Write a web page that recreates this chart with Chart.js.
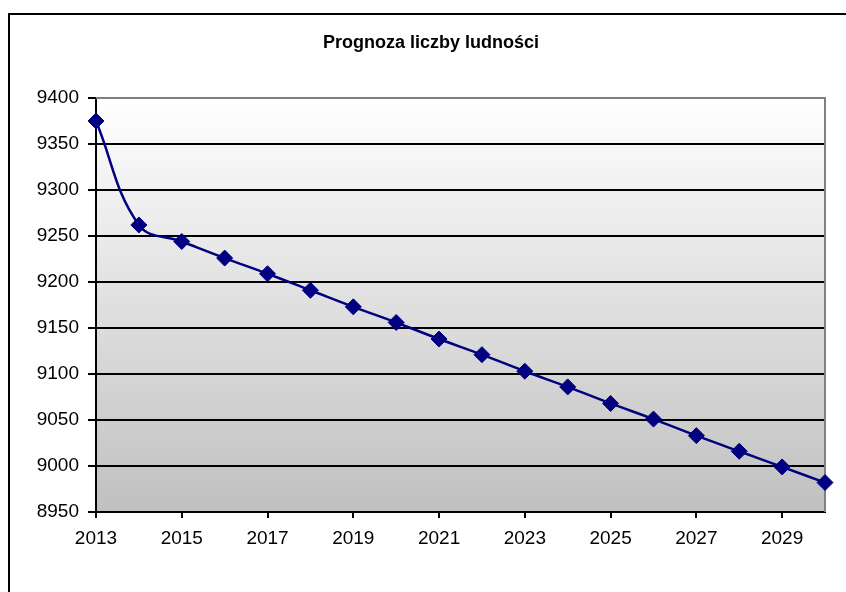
<!DOCTYPE html>
<html>
<head>
<meta charset="utf-8">
<script src="https://cdn.jsdelivr.net/npm/chart.js@4/dist/chart.umd.min.js"></script>
<style>
  html, body { margin: 0; padding: 0; background: #fff; }
  #wrap { width: 846px; height: 592px; }
</style>
</head>
<body>
<div id="wrap"><canvas id="c" width="846" height="592"></canvas></div>
<script>
const years = ['2013','2014','2015','2016','2017','2018','2019','2020','2021','2022','2023','2024','2025','2026','2027','2028','2029','2030'];
const population = [9375, 9262, 9244, 9226, 9209, 9191, 9173, 9156, 9138, 9121, 9103, 9086, 9068, 9051, 9033, 9016, 8999, 8982];
const yMin = 8950, yMax = 9400, yStep = 50;
const titleText = 'Prognoza liczby ludności';

const FONT = '"Liberation Sans", Arial, sans-serif';

const decor = {
  id: 'decor',
  beforeDraw(chart) {
    const { ctx, chartArea: a } = chart;
    ctx.save();
    // outer frame
    ctx.strokeStyle = '#000';
    ctx.lineWidth = 2;
    ctx.beginPath();
    ctx.moveTo(9, 600);
    ctx.lineTo(9, 14);
    ctx.lineTo(850, 14);
    ctx.stroke();
    // plot background gradient
    const g = ctx.createLinearGradient(0, a.top, 0, a.bottom);
    g.addColorStop(0, '#ffffff');
    g.addColorStop(1, '#c0c0c0');
    ctx.fillStyle = g;
    ctx.fillRect(a.left, a.top, a.right - a.left, a.bottom - a.top);
    // title
    ctx.fillStyle = '#000';
    ctx.font = 'bold 18px ' + FONT;
    ctx.textAlign = 'center';
    ctx.textBaseline = 'middle';
    ctx.fillText(titleText, 431, 43);
    ctx.restore();
  },
  beforeDatasetsDraw(chart) {
    const { ctx, chartArea: a } = chart;
    ctx.save();
    ctx.strokeStyle = '#808080';
    ctx.lineWidth = 2;
    ctx.beginPath();
    ctx.moveTo(a.left, a.top);
    ctx.lineTo(a.right, a.top);
    ctx.lineTo(a.right, a.bottom);
    ctx.stroke();
    ctx.restore();
  }
};

new Chart(document.getElementById('c'), {
  type: 'line',
  data: {
    labels: years,
    datasets: [{
      data: population,
      borderColor: '#000080',
      backgroundColor: '#000080',
      borderWidth: 2.5,
      tension: 0.4,
      pointStyle: 'rectRot',
      pointRadius: 8,
      pointHoverRadius: 8,
      pointBorderWidth: 1,
      pointBorderColor: '#000080',
      pointBackgroundColor: '#000080',
      clip: false,
      fill: false
    }]
  },
  options: {
    responsive: false,
    animation: false,
    layout: { padding: { left: 0, right: 21, top: 98, bottom: 0 } },
    plugins: {
      legend: { display: false },
      tooltip: { enabled: false },
      title: { display: false }
    },
    scales: {
      x: {
        type: 'category',
        offset: false,
        afterFit(scale) { scale.height = 80; },
        border: { display: true, color: '#000', width: 2 },
        grid: { display: true, drawOnChartArea: false, drawTicks: true, tickLength: 6, color: '#000', lineWidth: 2 },
        ticks: {
          autoSkip: false,
          maxRotation: 0,
          color: '#000',
          padding: 9,
          font: { family: FONT, size: 19 },
          callback(v, i) { return i % 2 === 0 ? this.getLabelForValue(v) : null; }
        }
      },
      y: {
        min: yMin,
        max: yMax,
        afterFit(scale) { scale.width = 96; },
        border: { display: true, color: '#000', width: 2 },
        grid: {
          color: (c) => (c.tick && c.tick.value === yMax) ? 'rgba(0,0,0,0)' : '#000',
          lineWidth: 2,
          tickLength: 8,
          tickColor: '#000'
        },
        ticks: {
          stepSize: yStep,
          color: '#000',
          padding: 9,
          font: { family: FONT, size: 19 },
          callback(v) { return String(v); }
        }
      }
    }
  },
  plugins: [decor]
});
</script>
</body>
</html>
